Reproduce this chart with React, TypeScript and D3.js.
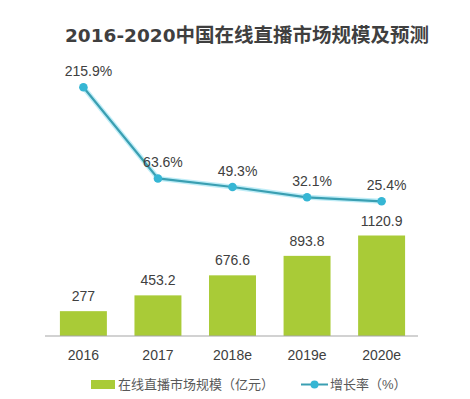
import React from "react";
import * as d3 from "d3";

const categories = ["2016", "2017", "2018e", "2019e", "2020e"];
const marketSize = [277, 453.2, 676.6, 893.8, 1120.9];
const growthRate = [215.9, 63.6, 49.3, 32.1, 25.4];
const barLabels = ["277", "453.2", "676.6", "893.8", "1120.9"];
const rateLabels = ["215.9%", "63.6%", "49.3%", "32.1%", "25.4%"];
const legendBar = "在线直播市场规模（亿元）";
const legendLine = "增长率（%）";
const titleDigits = "2016-2020";
const titleText = "中国在线直播市场规模及预测";

const W = 470;
const H = 399;

export default function App() {
  const x = d3.scaleBand<string>().domain(categories).range([45, 420]).paddingInner(0.37).paddingOuter(0.2);
  const yBar = d3.scaleLinear().domain([0, 1120.9]).range([336, 235.5]);
  const yLine = d3.scaleLinear().domain([0, 215.9]).range([216.5, 87.3]);
  const cx = (c: string) => (x(c) as number) + x.bandwidth() / 2;
  const line = d3
    .line<number>()
    .x((_, i) => cx(categories[i]))
    .y((d) => yLine(d));
  const font = "'Liberation Sans', 'Noto Sans CJK SC', sans-serif";
  const textColor = "#404040";
  return (
    <svg width={W} height={H} style={{ position: "absolute", left: 0, top: 0, background: "#fff" }}>
      <rect width={W} height={H} fill="#fff" />
      <text x={247} y={42} textAnchor="middle" fill="#3f3f3f" fontWeight="bold" fontSize={19.5}>
        <tspan fontFamily="'DejaVu Sans', sans-serif" fontSize={18.5}>{titleDigits}</tspan>
        <tspan fontFamily="'Noto Sans CJK SC', sans-serif">{titleText}</tspan>
      </text>
      {categories.map((c, i) => (
        <g key={c}>
          <rect x={x(c)} y={yBar(marketSize[i])} width={x.bandwidth()} height={yBar(0) - yBar(marketSize[i])} fill="#a9cb37" />
          <text x={cx(c)} y={yBar(marketSize[i]) - 10} textAnchor="middle" fontFamily={font} fontSize={14} fill={textColor}>
            {barLabels[i]}
          </text>
          <text x={cx(c)} y={360} textAnchor="middle" fontFamily={font} fontSize={14} fill={textColor}>
            {c}
          </text>
        </g>
      ))}
      <line x1={45} x2={418} y1={336} y2={336} stroke="#a6a6a6" strokeWidth={1.2} />
      <path d={line(growthRate) as string} fill="none" stroke="#7fdcef" strokeWidth={5} strokeOpacity={0.5} />
      <path d={line(growthRate) as string} fill="none" stroke="#3a9fb2" strokeWidth={2.2} />
      {growthRate.map((v, i) => (
        <g key={i}>
          <circle cx={cx(categories[i])} cy={yLine(v)} r={4.3} fill="#36b6d4" />
          <text x={cx(categories[i]) + 5} y={yLine(v) - 11} textAnchor="middle" fontFamily={font} fontSize={14} fill={textColor}>
            {rateLabels[i]}
          </text>
        </g>
      ))}
      <rect x={91} y={380} width={24} height={9} fill="#a9cb37" />
      <text x={118} y={389} fontFamily={font} fontSize={13} fill="#595959">{legendBar}</text>
      <line x1={301} x2={328} y1={384.5} y2={384.5} stroke="#3a9fb2" strokeWidth={2} />
      <circle cx={314.5} cy={384.5} r={4} fill="#36b6d4" />
      <text x={330} y={389} fontFamily={font} fontSize={13} fill="#595959">{legendLine}</text>
    </svg>
  );
}
